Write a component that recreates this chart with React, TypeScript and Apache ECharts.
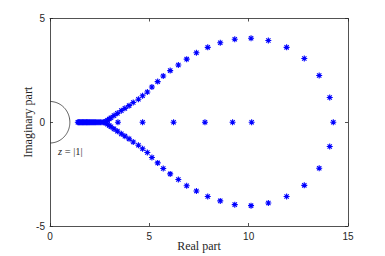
import React, { useEffect, useRef } from "react";
import * as echarts from "echarts";

// Roots (real part, imaginary part)
const realRoots: number[] = [
  1.40, 1.44, 1.48, 1.52, 1.56, 1.60, 1.64, 1.68, 1.72, 1.76, 1.80, 1.84, 1.88,
  1.92, 1.96, 2.00, 2.05, 2.10, 2.15, 2.20, 2.25, 2.30, 2.36, 2.42, 2.48, 2.55,
  2.62, 2.70, 2.78, 3.42, 4.66, 6.22, 7.80, 9.19, 10.15, 14.26,
];
const upperRe: number[] = [
  2.82, 2.90, 2.98, 3.07, 3.22, 3.39, 3.59, 3.77, 3.98, 4.19, 4.45, 4.66, 4.90,
  5.13, 5.42, 5.70, 6.05, 6.46, 6.88, 7.37, 7.94, 8.57, 9.30, 10.12, 10.99,
  11.91, 12.80, 13.55, 14.08,
];
const upperIm: number[] = [
  0.05, 0.10, 0.16, 0.22, 0.32, 0.43, 0.56, 0.67, 0.80, 0.95, 1.11, 1.28, 1.46,
  1.70, 1.96, 2.23, 2.49, 2.76, 3.04, 3.35, 3.61, 3.83, 4.00, 4.05, 3.94, 3.61,
  3.07, 2.25, 1.19,
];
const lowerRe: number[] = [
  2.82, 2.90, 2.98, 3.07, 3.22, 3.39, 3.59, 3.77, 3.98, 4.19, 4.45, 4.66, 4.90,
  5.13, 5.42, 5.70, 6.05, 6.46, 6.88, 7.37, 7.94, 8.57, 9.30, 10.12, 10.99,
  11.91, 12.80, 13.55, 14.08,
];
const lowerIm: number[] = [
  -0.05, -0.10, -0.16, -0.22, -0.32, -0.43, -0.56, -0.67, -0.80, -0.95, -1.11,
  -1.28, -1.46, -1.70, -1.96, -2.23, -2.49, -2.76, -3.06, -3.31, -3.58, -3.79,
  -3.97, -4.02, -3.89, -3.58, -3.04, -2.22, -1.17,
];

const xTicks = [0, 5, 10, 15];
const yTicks = [-5, 0, 5];
const circleRadius = 1;

const ASTERISK =
  "path://M0,-5L0,5M-5,0L5,0M-3.6,-3.6L3.6,3.6M-3.6,3.6L3.6,-3.6";

export default function App() {
  const ref = useRef<HTMLDivElement>(null);
  useEffect(() => {
    if (!ref.current) return;
    const chart = echarts.init(ref.current, undefined, { renderer: "svg" });

    const points: number[][] = [];
    realRoots.forEach((r) => points.push([r, 0]));
    upperRe.forEach((r, i) => points.push([r, upperIm[i]]));
    lowerRe.forEach((r, i) => points.push([r, lowerIm[i]]));

    const semi: number[][] = [];
    for (let a = -90; a <= 90; a += 3) {
      const t = (a * Math.PI) / 180;
      semi.push([circleRadius * Math.cos(t), circleRadius * Math.sin(t)]);
    }

    const axisColor = "#262626";
    const serif = "Liberation Serif, Times New Roman, serif";
    const tickFont = {
      color: axisColor,
      fontFamily: "Liberation Sans, Arial, sans-serif",
      fontSize: 10,
    };
    const nameFont = { color: axisColor, fontFamily: serif, fontSize: 12 };
    const line = { show: true, onZero: false, lineStyle: { color: axisColor, width: 0.8 } };
    const tick = { show: true, inside: true, length: 3, lineStyle: { color: axisColor, width: 0.8 } };

    chart.setOption({
      animation: false,
      backgroundColor: "#ffffff",
      grid: {
        left: 50,
        right: 37,
        top: 18.5,
        bottom: 30,
        containLabel: false,
        outerBoundsMode: "none",
      },
      xAxis: [
        {
          type: "value",
          min: xTicks[0],
          max: xTicks[xTicks.length - 1],
          interval: 5,
          position: "bottom",
          name: "Real part",
          nameLocation: "middle",
          nameGap: 14,
          nameMoveOverlap: false,
          nameTextStyle: nameFont,
          axisLine: line,
          axisTick: tick,
          axisLabel: { ...tickFont, margin: 5 },
          splitLine: { show: false },
        },
        {
          type: "value",
          min: xTicks[0],
          max: xTicks[xTicks.length - 1],
          interval: 5,
          position: "top",
          axisLine: line,
          axisTick: tick,
          axisLabel: { show: false },
          splitLine: { show: false },
        },
      ],
      yAxis: [
        {
          type: "value",
          min: yTicks[0],
          max: yTicks[yTicks.length - 1],
          interval: 5,
          position: "left",
          name: "Imaginary part",
          nameLocation: "middle",
          nameGap: 16,
          nameMoveOverlap: false,
          nameTextStyle: nameFont,
          axisLine: line,
          axisTick: tick,
          axisLabel: { ...tickFont, margin: 5 },
          splitLine: { show: false },
        },
        {
          type: "value",
          min: yTicks[0],
          max: yTicks[yTicks.length - 1],
          interval: 5,
          position: "right",
          axisLine: line,
          axisTick: tick,
          axisLabel: { show: false },
          splitLine: { show: false },
        },
      ],
      series: [
        {
          type: "line",
          data: semi,
          showSymbol: false,
          symbol: "none",
          lineStyle: { color: "#333333", width: 0.8 },
          silent: true,
          z: 1,
        },
        {
          type: "scatter",
          data: points,
          symbol: ASTERISK,
          symbolSize: 6,
          itemStyle: {
            color: "rgba(0,0,0,0)",
            borderColor: "#0000ff",
            borderWidth: 1.1,
            opacity: 1,
          },
          z: 3,
        },
      ],
      graphic: [
        {
          type: "text",
          left: 58,
          top: 146,
          style: {
            text: "{i|z}{n| = |1|}",
            fontFamily: serif,
            fontSize: 10.5,
            fill: axisColor,
            rich: {
              i: { fontStyle: "italic", fontFamily: serif, fontSize: 10.5, fill: axisColor, color: axisColor },
              n: { fontFamily: serif, fontSize: 10.5, fill: axisColor, color: axisColor },
            },
          },
        },
      ],
    });
    return () => chart.dispose();
  }, []);
  return (
    <div
      ref={ref}
      style={{ position: "fixed", left: 0, top: 0, width: 385, height: 256, background: "#fff" }}
    />
  );
}
